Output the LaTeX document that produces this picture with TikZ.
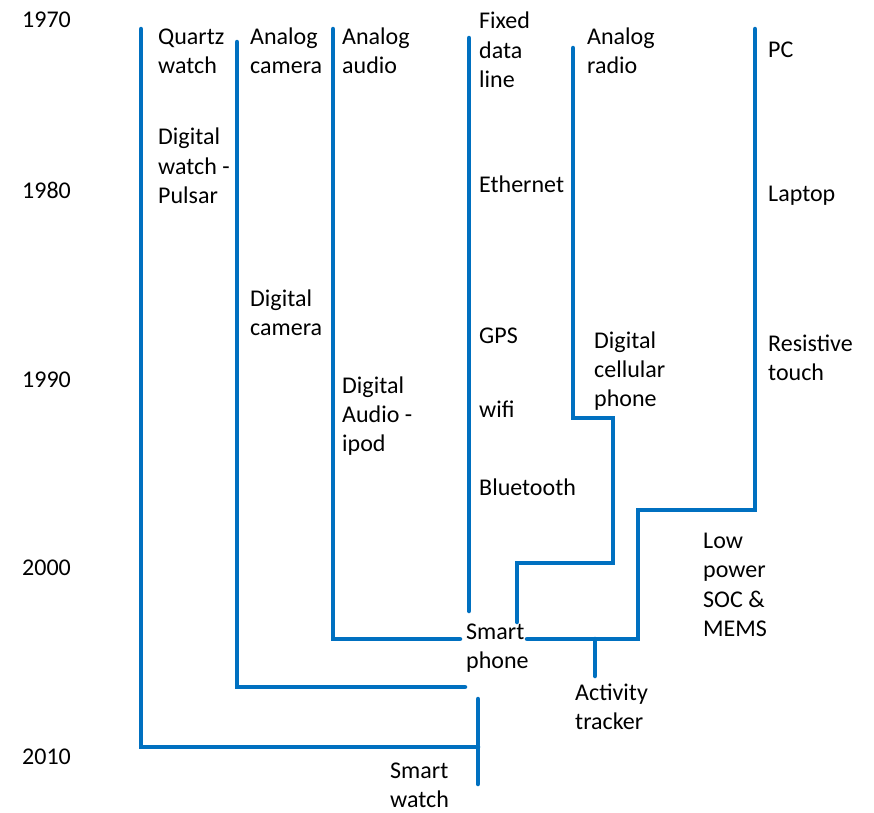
\documentclass[tikz,border=0pt]{standalone}
\usepackage{fontspec}
\setmainfont{Carlito}
\definecolor{lineblue}{RGB}{0,112,192}
\begin{document}
\begin{tikzpicture}[x=1pt,y=-1pt,
  lbl/.style={anchor=west,inner sep=0pt,align=left,font=\fontsize{24}{29.3}\selectfont,text=black},
  tree/.style={draw=lineblue,line width=4.5pt,line cap=round}]
\useasboundingbox (0,0) rectangle (874,812);
% years
\node[lbl] (y1970) at (22,20) {1970};
\node[lbl] (y1980) at (22,190) {1980};
\node[lbl] (y1990) at (22,380) {1990};
\node[lbl] (y2000) at (22,568) {2000};
\node[lbl] (y2010) at (22,757) {2010};
% labels
\node[lbl] (quartz) at (158,51) {Quartz\\watch};
\node[lbl] (dwatch) at (158,166) {Digital\\watch -\\Pulsar};
\node[lbl] (acam) at (250,51) {Analog\\camera};
\node[lbl] (dcam) at (250,313) {Digital\\camera};
\node[lbl] (aaudio) at (342,51) {Analog\\audio};
\node[lbl] (daudio) at (342,416) {Digital\\Audio -\\ipod};
\node[lbl] (fixed) at (479,50) {Fixed\\data\\line};
\node[lbl] (eth) at (479,184) {Ethernet};
\node[lbl] (gps) at (479,336) {GPS};
\node[lbl] (wifi) at (479,409) {wifi};
\node[lbl] (bt) at (479,487) {Bluetooth};
\node[lbl] (aradio) at (587,51) {Analog\\radio};
\node[lbl] (dcell) at (594,371) {Digital\\cellular\\phone};
\node[lbl] (pc) at (768,50) {PC};
\node[lbl] (laptop) at (768,196) {Laptop};
\node[lbl] (rtouch) at (768,358) {Resistive\\touch};
\node[lbl] (lowpow) at (703,585) {Low\\power\\SOC \&\\MEMS};
\node[lbl] (sphone) at (466,648) {Smart\\phone};
\node[lbl] (tracker) at (575,707) {Activity\\tracker};
\node[lbl] (swatch) at (390,785) {Smart\\watch};
% tree coordinates
\coordinate (qtop) at (141,29);
\coordinate (qbot) at (141,747);
\coordinate (wjoin) at (478,747);
\coordinate (wtop) at (478,699);
\coordinate (wbot) at (478,784);
\coordinate (ctop) at (237,42);
\coordinate (cbot) at (237,687);
\coordinate (cend) at (465,687);
\coordinate (atop) at (333,29);
\coordinate (abot) at (333,639);
\coordinate (aend) at (460,639);
\coordinate (ftop) at (469,38);
\coordinate (fbot) at (469,611);
\coordinate (rtop) at (573,48);
\coordinate (r1) at (573,418);
\coordinate (r2) at (613,418);
\coordinate (r3) at (613,563);
\coordinate (r4) at (517,563);
\coordinate (r5) at (517,622);
\coordinate (ptop) at (755,29);
\coordinate (p1) at (755,510);
\coordinate (p2) at (638,510);
\coordinate (p3) at (638,639);
\coordinate (p4) at (527,639);
\coordinate (ttop) at (595,639);
\coordinate (tbot) at (595,676);
% tree lines
\draw[tree] (qtop) -- (qbot) -- (wjoin);
\draw[tree] (wtop) -- (wbot);
\draw[tree] (ctop) -- (cbot) -- (cend);
\draw[tree] (atop) -- (abot) -- (aend);
\draw[tree] (ftop) -- (fbot);
\draw[tree] (rtop) -- (r1) -- (r2) -- (r3) -- (r4) -- (r5);
\draw[tree] (ptop) -- (p1) -- (p2) -- (p3) -- (p4);
\draw[tree] (ttop) -- (tbot);
\end{tikzpicture}
\end{document}
